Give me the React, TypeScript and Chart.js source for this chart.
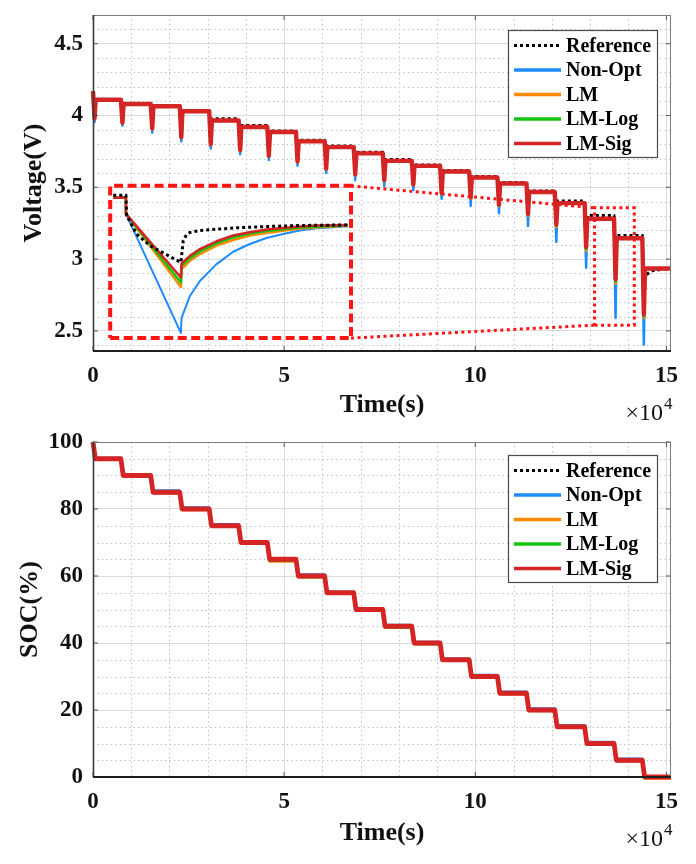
import React, { useEffect, useRef } from "react";
import { Chart, registerables } from "chart.js";

Chart.register(...registerables);

const FONT = '"Liberation Serif", "Times New Roman", serif';

// ---------- axes ----------
const timeMin = 0;
const timeMax = 15.12; // ×1e4 s
const timeTicks = [0, 5, 10, 15];
const timeMinorStep = 1;
const voltageMin = 2.36;
const voltageMax = 4.7;
const voltageTicks = [2.5, 3, 3.5, 4, 4.5];
const voltageMinorStep = 0.1;
const socMin = 0;
const socMax = 100;
const socTicks = [0, 20, 40, 60, 80, 100];
const socMinorStep = 5;

// ---------- series ----------
const seriesNames = ["Reference", "Non-Opt", "LM", "LM-Log", "LM-Sig"];
const seriesColors = ["#000000", "#1c8cff", "#ff8a00", "#12c412", "#d42424"];

// pulse test timing (×1e4 s)
const pulseTimes = [0.0, 0.73, 1.51, 2.27, 3.04, 3.81, 4.56, 5.31, 6.06, 6.82, 7.58, 8.34, 9.08, 9.84, 10.58, 11.34, 12.08, 12.86, 13.63, 14.37];
const pulseDuration = 0.04;
const relaxDuration = 0.03;
const socDropDuration = 0.06;

// voltage (V)
const startVoltage = 4.17;
const restRef = [4.112, 4.083, 4.07, 4.035, 3.978, 3.93, 3.892, 3.828, 3.787, 3.745, 3.693, 3.656, 3.617, 3.576, 3.533, 3.475, 3.404, 3.304, 3.164, 2.885];
const restModel = [4.11, 4.08, 4.065, 4.03, 3.965, 3.92, 3.885, 3.82, 3.78, 3.736, 3.684, 3.649, 3.61, 3.568, 3.526, 3.467, 3.39, 3.281, 3.145, 2.935];
const dipRef = [3.99, 3.96, 3.925, 3.87, 3.82, 3.78, 3.74, 3.7, 3.655, 3.615, 3.575, 3.545, 3.49, 3.455, 3.41, 3.35, 3.28, 3.15, 2.945, 2.7];
const dipNonOpt = [3.955, 3.93, 3.88, 3.82, 3.77, 3.73, 3.69, 3.65, 3.6, 3.55, 3.51, 3.48, 3.42, 3.37, 3.32, 3.23, 3.12, 2.94, 2.59, 2.405];
const dipLM = [3.975, 3.945, 3.905, 3.845, 3.795, 3.755, 3.715, 3.675, 3.625, 3.585, 3.545, 3.515, 3.455, 3.42, 3.37, 3.305, 3.225, 3.06, 2.83, 2.59];
const dipLMLog = [3.978, 3.948, 3.908, 3.848, 3.798, 3.758, 3.718, 3.678, 3.628, 3.588, 3.548, 3.518, 3.458, 3.425, 3.375, 3.31, 3.232, 3.072, 2.845, 2.6];
const dipLMSig = [3.98, 3.95, 3.91, 3.85, 3.8, 3.76, 3.72, 3.68, 3.63, 3.59, 3.55, 3.52, 3.46, 3.43, 3.38, 3.315, 3.24, 3.085, 2.86, 2.615];
const refTailTime = [14.62, 14.95];
const refTailVoltage = [2.918, 2.932];

// magnified inset (drawn in the main axes' units)
const insetRefT = [0.53, 0.862, 0.88, 1.141, 1.489, 1.925, 2.299, 2.36, 2.447, 2.535, 2.796, 3.231, 3.667, 4.538, 5.409, 6.672];
const insetRefV = [3.444, 3.444, 3.304, 3.175, 3.094, 3.03, 2.977, 3.129, 3.17, 3.185, 3.199, 3.208, 3.217, 3.227, 3.234, 3.238];
const insetNonOptT = [0.53, 0.862, 0.862, 2.299, 2.317, 2.535, 2.796, 3.231, 3.667, 4.102, 4.538, 4.973, 5.409, 5.844, 6.28, 6.672];
const insetNonOptV = [3.428, 3.428, 3.315, 2.486, 2.591, 2.743, 2.848, 2.965, 3.051, 3.105, 3.147, 3.175, 3.199, 3.215, 3.222, 3.229];
const insetLMT = [0.53, 0.862, 0.862, 2.299, 2.317, 2.535, 2.796, 3.231, 3.667, 4.102, 4.538, 5.409, 6.672];
const insetLMV = [3.428, 3.428, 3.315, 2.806, 2.93, 2.988, 3.035, 3.094, 3.133, 3.164, 3.182, 3.213, 3.234];
const insetLMLogT = [0.53, 0.862, 0.862, 2.299, 2.317, 2.535, 2.796, 3.231, 3.667, 4.102, 4.538, 5.409, 6.672];
const insetLMLogV = [3.428, 3.428, 3.315, 2.837, 2.953, 3.007, 3.054, 3.11, 3.152, 3.178, 3.196, 3.22, 3.236];
const insetLMSigT = [0.53, 0.862, 0.862, 2.299, 2.317, 2.535, 2.796, 3.231, 3.667, 4.102, 4.538, 4.973, 5.409, 5.844, 6.672];
const insetLMSigV = [3.428, 3.428, 3.315, 2.872, 2.97, 3.023, 3.07, 3.124, 3.164, 3.187, 3.206, 3.217, 3.227, 3.234, 3.238];

// zoom boxes (main axes units)
const insetBoxT = [0.45, 6.75];
const insetBoxV = [2.45, 3.51];
const sourceBoxT = [13.12, 14.16];
const sourceBoxV = [2.54, 3.357];

// SOC (%)
const socStart = 100;
const socRef = [95, 90, 85, 80, 75, 70, 65, 60, 55, 50, 45, 40, 35, 30, 25, 20, 15, 9.6, 5, 0];
const socNonOpt = [95.2, 90.2, 85.5, 80.45, 75.45, 70.3, 65.2, 60.45, 55.2, 50.3, 45.4, 40.3, 35.3, 30.45, 25.45, 20.45, 15.45, 10.45, 5.45, 0.2];
const socLM = [94.9, 89.8, 84.8, 79.8, 74.8, 69.8, 64.4, 59.7, 54.8, 49.7, 44.7, 39.7, 34.8, 29.8, 24.8, 19.8, 14.8, 9.8, 4.8, -0.4];
const socLMLog = [95, 89.9, 84.9, 79.9, 74.9, 69.9, 64.7, 59.8, 54.9, 49.8, 44.8, 39.8, 34.9, 29.9, 24.9, 19.9, 14.9, 9.9, 4.9, -0.1];
const socLMSig = [95, 90, 85, 80, 75, 70, 65, 60, 55, 50, 45, 40, 35, 30, 25, 20, 15, 10, 5, 0];

// ---------- builders ----------
type P = { x: number; y: number };

function voltagePoints(rest: number[], dip: number[], tailT: number[] = [], tailV: number[] = []): P[] {
  const pts: P[] = [{ x: 0, y: startVoltage }];
  pulseTimes.forEach((t, i) => {
    if (i > 0) pts.push({ x: t, y: rest[i - 1] });
    pts.push({ x: t + pulseDuration, y: dip[i] });
    pts.push({ x: t + pulseDuration + relaxDuration, y: rest[i] });
  });
  tailT.forEach((t, i) => pts.push({ x: t, y: tailV[i] }));
  pts.push({ x: timeMax, y: tailV.length ? tailV[tailV.length - 1] : rest[rest.length - 1] });
  return pts;
}

function socPoints(levels: number[]): P[] {
  const pts: P[] = [{ x: 0, y: socStart }];
  pulseTimes.forEach((t, i) => {
    if (i > 0) pts.push({ x: t, y: levels[i - 1] });
    pts.push({ x: t + socDropDuration, y: levels[i] });
  });
  pts.push({ x: timeMax, y: levels[levels.length - 1] });
  return pts;
}

const zip = (t: number[], v: number[]): P[] => t.map((x, i) => ({ x, y: v[i] }));

const rectPoints = (t: number[], v: number[]): P[] => [
  { x: t[0], y: v[0] },
  { x: t[1], y: v[0] },
  { x: t[1], y: v[1] },
  { x: t[0], y: v[1] },
  { x: t[0], y: v[0] },
];

const seriesWidth = [3, 2.5, 3, 3, 4.4];
const seriesDash = [[3, 3], [], [], [], []];

function ds(label: string, data: P[], idx: number, order: number, inLegend: boolean, widthOverride?: number) {
  return {
    type: "line",
    label,
    data,
    borderColor: seriesColors[idx],
    backgroundColor: seriesColors[idx],
    borderWidth: widthOverride ?? seriesWidth[idx],
    borderDash: seriesDash[idx],
    borderJoinStyle: "round",
    borderCapStyle: "butt",
    pointRadius: 0,
    pointHoverRadius: 0,
    tension: 0,
    fill: false,
    order,
    clip: 6,
    inLegend,
  };
}

function boxDs(data: P[], dash: number[], width: number) {
  return {
    type: "line",
    label: "",
    data,
    borderColor: "#ff1414",
    borderWidth: width,
    borderDash: dash,
    borderJoinStyle: "miter",
    borderCapStyle: "butt",
    pointRadius: 0,
    pointHoverRadius: 0,
    tension: 0,
    fill: false,
    order: 30,
    clip: 6,
    inLegend: false,
  };
}

// ---------- plugins ----------
const minorGridPlugin = {
  id: "minorGrid",
  beforeDatasetsDraw(chart: any, _a: any, opts: any) {
    const { ctx, chartArea: a, scales } = chart;
    const x = scales.x;
    const y = scales.y;
    ctx.save();
    ctx.beginPath();
    ctx.rect(a.left, a.top, a.right - a.left, a.bottom - a.top);
    ctx.clip();
    ctx.strokeStyle = "#c2c2c2";
    ctx.lineWidth = 1;
    ctx.setLineDash([1.5, 3]);
    const isMajor = (v: number, step: number) => Math.abs(v / step - Math.round(v / step)) < 1e-6;
    for (let i = 0; ; i++) {
      const v = Math.ceil(x.min / opts.xStep) * opts.xStep + i * opts.xStep;
      if (v > x.max + 1e-9) break;
      if (isMajor(v, opts.xMajor)) continue;
      const px = Math.round(x.getPixelForValue(v)) + 0.5;
      ctx.beginPath();
      ctx.moveTo(px, a.top);
      ctx.lineTo(px, a.bottom);
      ctx.stroke();
    }
    const y0 = Math.ceil(y.min / opts.yStep - 1e-6) * opts.yStep;
    for (let i = 0; ; i++) {
      const v = y0 + i * opts.yStep;
      if (v > y.max + 1e-9) break;
      if (isMajor(v, opts.yMajor)) continue;
      const py = Math.round(y.getPixelForValue(v)) + 0.5;
      ctx.beginPath();
      ctx.moveTo(a.left, py);
      ctx.lineTo(a.right, py);
      ctx.stroke();
    }
    ctx.restore();
  },
};

const framePlugin = {
  id: "frame",
  afterDatasetsDraw(chart: any) {
    const { ctx, chartArea: a, scales } = chart;
    const line = (x1: number, y1: number, x2: number, y2: number) => {
      ctx.beginPath();
      ctx.moveTo(x1, y1);
      ctx.lineTo(x2, y2);
      ctx.stroke();
    };
    ctx.save();
    ctx.setLineDash([]);
    ctx.strokeStyle = "#555";
    ctx.lineWidth = 1;
    scales.x.ticks.forEach((t: any) => {
      const px = scales.x.getPixelForValue(t.value);
      line(px, a.bottom, px, a.bottom - 5);
      line(px, a.top, px, a.top + 5);
    });
    scales.y.ticks.forEach((t: any) => {
      const py = scales.y.getPixelForValue(t.value);
      line(a.left, py, a.left + 5, py);
      line(a.right, py, a.right - 5, py);
    });
    ctx.strokeStyle = "#7c7c7c";
    ctx.lineWidth = 1;
    line(a.left, a.top + 0.5, a.right, a.top + 0.5);
    line(a.right - 0.5, a.top, a.right - 0.5, a.bottom);
    ctx.strokeStyle = "#3a3a3a";
    ctx.lineWidth = 1.6;
    line(a.left + 0.5, a.top, a.left + 0.5, a.bottom);
    ctx.strokeStyle = "#1e1e1e";
    ctx.lineWidth = 2;
    line(a.left, a.bottom, a.right, a.bottom);
    ctx.restore();
  },
};

const boxLegendPlugin = {
  id: "boxLegend",
  afterDraw(chart: any, _a: any, opts: any) {
    const { ctx, chartArea: a } = chart;
    const items = chart.data.datasets.filter((d: any) => d.inLegend);
    const w = 149;
    const h = 127;
    const x0 = a.right - 14 - w;
    const y0 = a.top + opts.top;
    ctx.save();
    ctx.fillStyle = "#ffffff";
    ctx.fillRect(x0, y0, w, h);
    ctx.strokeStyle = "#4a4a4a";
    ctx.lineWidth = 1.2;
    ctx.setLineDash([]);
    ctx.strokeRect(x0 + 0.5, y0 + 0.5, w, h);
    items.forEach((d: any, i: number) => {
      const cy = y0 + 15.5 + i * 24.5;
      ctx.strokeStyle = d.borderColor;
      ctx.lineWidth = d.borderDash && d.borderDash.length ? 3 : 3.5;
      ctx.setLineDash(d.borderDash || []);
      ctx.beginPath();
      ctx.moveTo(x0 + 6, cy);
      ctx.lineTo(x0 + 53, cy);
      ctx.stroke();
      ctx.setLineDash([]);
      ctx.fillStyle = "#000";
      ctx.font = `bold 20px ${FONT}`;
      ctx.textAlign = "left";
      ctx.textBaseline = "middle";
      ctx.fillText(d.label, x0 + 58, cy + 1);
    });
    ctx.restore();
  },
};

const exponentPlugin = {
  id: "exponent",
  afterDraw(chart: any) {
    const { ctx, chartArea: a } = chart;
    ctx.save();
    ctx.fillStyle = "#111";
    ctx.textBaseline = "middle";
    ctx.font = `24px ${FONT}`;
    ctx.textAlign = "right";
    ctx.fillText("\u00d710", a.right - 8, a.bottom + 63);
    ctx.font = `17px ${FONT}`;
    ctx.textAlign = "left";
    ctx.fillText("4", a.right - 7, a.bottom + 54);
    ctx.restore();
  },
};

// ---------- config ----------
function makeScales(o: {
  yMin: number; yMax: number; yTicks: number[]; yTitle: string;
  xHeight: number; xTitlePad: number; yTitlePad: number;
  yFmt: (v: number) => string;
}) {
  const tickFont = { family: FONT, size: 23, weight: "bold" };
  const titleFont = { family: FONT, size: 26, weight: "bold" };
  return {
    x: {
      type: "linear",
      min: timeMin,
      max: timeMax,
      afterBuildTicks: (s: any) => {
        s.ticks = timeTicks.map((v) => ({ value: v }));
      },
      afterFit: (s: any) => {
        s.height = o.xHeight;
        s.paddingLeft = 0;
        s.paddingRight = 0;
      },
      ticks: {
        color: "#111",
        font: tickFont,
        padding: 11,
        maxRotation: 0,
        autoSkip: false,
        callback: (v: number) => String(v),
      },
      grid: { color: "#dcdcdc", lineWidth: 1, drawTicks: false },
      border: { display: false },
      title: {
        display: true,
        text: "Time(s)",
        color: "#111",
        font: titleFont,
        padding: { top: 0, bottom: o.xTitlePad },
      },
    },
    y: {
      type: "linear",
      min: o.yMin,
      max: o.yMax,
      afterBuildTicks: (s: any) => {
        s.ticks = o.yTicks.map((v) => ({ value: v }));
      },
      afterFit: (s: any) => {
        s.width = 93;
        s.paddingTop = 0;
        s.paddingBottom = 0;
      },
      ticks: {
        color: "#111",
        font: tickFont,
        padding: 10,
        autoSkip: false,
        callback: (v: number) => o.yFmt(v),
      },
      grid: { color: "#dcdcdc", lineWidth: 1, drawTicks: false },
      border: { display: false },
      title: {
        display: true,
        text: o.yTitle,
        color: "#111",
        font: titleFont,
        padding: { top: o.yTitlePad, bottom: 0 },
      },
    },
  };
}

function voltageConfig(): any {
  const datasets = [
    ds(seriesNames[0], voltagePoints(restRef, dipRef, refTailTime, refTailVoltage), 0, 9, true),
    ds(seriesNames[1], voltagePoints(restModel, dipNonOpt), 1, 8, true),
    ds(seriesNames[2], voltagePoints(restModel, dipLM), 2, 7, true),
    ds(seriesNames[3], voltagePoints(restModel, dipLMLog), 3, 6, true),
    ds(seriesNames[4], voltagePoints(restModel, dipLMSig), 4, 5, true),
    ds("", zip(insetRefT, insetRefV), 0, 0, false),
    ds("", zip(insetNonOptT, insetNonOptV), 1, 4, false, 2),
    ds("", zip(insetLMT, insetLMV), 2, 3, false, 2.5),
    ds("", zip(insetLMLogT, insetLMLogV), 3, 2, false, 2.5),
    ds("", zip(insetLMSigT, insetLMSigV), 4, 1, false, 2.5),
    boxDs(rectPoints(insetBoxT, insetBoxV), [9, 4.5], 4),
    boxDs(rectPoints(sourceBoxT, sourceBoxV), [3, 3.5], 3),
    boxDs([{ x: insetBoxT[1], y: insetBoxV[1] }, { x: sourceBoxT[0], y: sourceBoxV[1] }], [3, 3.5], 3),
    boxDs([{ x: insetBoxT[1], y: insetBoxV[0] }, { x: sourceBoxT[0], y: sourceBoxV[0] }], [3, 3.5], 3),
  ];
  return {
    type: "line",
    data: { datasets },
    options: {
      responsive: false,
      maintainAspectRatio: false,
      animation: false,
      events: [],
      layout: { padding: { left: 0, top: 15, right: 25, bottom: 0 } },
      scales: makeScales({
        yMin: voltageMin,
        yMax: voltageMax,
        yTicks: voltageTicks,
        yTitle: "Voltage(V)",
        xHeight: 81,
        xTitlePad: 11,
        yTitlePad: 18.5,
        yFmt: (v) => (Number.isInteger(v) ? String(v) : v.toFixed(1)),
      }),
      plugins: {
        legend: { display: false },
        tooltip: { enabled: false },
        title: { display: false },
        minorGrid: { xStep: timeMinorStep, xMajor: 5, yStep: voltageMinorStep, yMajor: 0.5 },
        boxLegend: { top: 15 },
      },
    },
    plugins: [minorGridPlugin, framePlugin, boxLegendPlugin, exponentPlugin],
  };
}

function socConfig(): any {
  const datasets = [
    ds(seriesNames[0], socPoints(socRef), 0, 9, true, 2.5),
    ds(seriesNames[1], socPoints(socNonOpt), 1, 8, true, 2.5),
    ds(seriesNames[2], socPoints(socLM), 2, 7, true, 3),
    ds(seriesNames[3], socPoints(socLMLog), 3, 6, true, 3),
    ds(seriesNames[4], socPoints(socLMSig), 4, 5, true, 4.8),
  ];
  return {
    type: "line",
    data: { datasets },
    options: {
      responsive: false,
      maintainAspectRatio: false,
      animation: false,
      events: [],
      layout: { padding: { left: 0, top: 26, right: 25, bottom: 0 } },
      scales: makeScales({
        yMin: socMin,
        yMax: socMax,
        yTicks: socTicks,
        yTitle: "SOC(%)",
        xHeight: 87,
        xTitlePad: 15.5,
        yTitlePad: 14.5,
        yFmt: (v) => String(v),
      }),
      plugins: {
        legend: { display: false },
        tooltip: { enabled: false },
        title: { display: false },
        minorGrid: { xStep: timeMinorStep, xMajor: 5, yStep: socMinorStep, yMajor: 20 },
        boxLegend: { top: 13 },
      },
    },
    plugins: [minorGridPlugin, framePlugin, boxLegendPlugin, exponentPlugin],
  };
}

function ChartCanvas({ make, top, height }: { make: () => any; top: number; height: number }) {
  const ref = useRef<HTMLCanvasElement>(null);
  useEffect(() => {
    if (!ref.current) return;
    const chart = new Chart(ref.current, make());
    return () => chart.destroy();
  }, [make]);
  return (
    <canvas
      ref={ref}
      width={696}
      height={height}
      style={{ position: "absolute", left: 0, top, width: 696, height, display: "block" }}
    />
  );
}

export default function App() {
  return (
    <div style={{ position: "absolute", left: 0, top: 0, width: 696, height: 864, background: "#ffffff", overflow: "hidden" }}>
      <ChartCanvas make={voltageConfig} top={0} height={432} />
      <ChartCanvas make={socConfig} top={416} height={448} />
    </div>
  );
}
